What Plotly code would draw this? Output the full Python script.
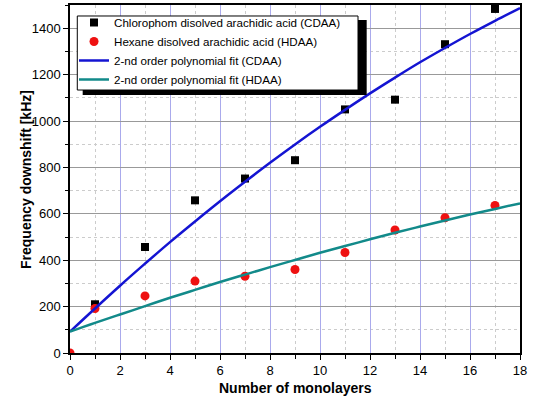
import plotly.graph_objects as go

# Measured data
x_pts = [1, 3, 5, 7, 9, 11, 13, 15, 17]
cdaa = [210, 457, 658, 752, 831, 1050, 1092, 1331, 1483]
x_h = [0, 1, 3, 5, 7, 9, 11, 13, 15, 17]
hdaa = [0, 192, 246, 310, 331, 360, 433, 530, 583, 636]

# Fit curves at integer x
x_fit = list(range(0, 19))
fit_cdaa = [92, 192, 290, 385, 478, 567, 654, 738, 820, 899, 975, 1048, 1119,
            1187, 1253, 1315, 1375, 1432, 1487]
fit_hdaa = [92, 130, 166, 202, 238, 272, 306, 338, 370, 401, 432, 461, 490,
            518, 545, 571, 597, 621, 645]

x_title = "Number of monolayers"
y_title = "Frequency downshift [kHz]"

FONT = "Liberation Sans, Arial, sans-serif"

fig = go.Figure()
fig.add_trace(go.Scatter(x=x_pts, y=cdaa, mode="markers",
                         name="Chlorophom disolved arachidic acid (CDAA)",
                         marker=dict(symbol="square", size=8, color="black")))
fig.add_trace(go.Scatter(x=x_h, y=hdaa, mode="markers",
                         name="Hexane disolved arachidic acid (HDAA)",
                         marker=dict(symbol="circle", size=9, color="#ee1111")))
fig.add_trace(go.Scatter(x=x_fit, y=fit_cdaa, mode="lines", line_shape="spline",
                         name="2-nd order polynomial fit (CDAA)",
                         line=dict(color="#1414d2", width=2.5)))
fig.add_trace(go.Scatter(x=x_fit, y=fit_hdaa, mode="lines", line_shape="spline",
                         name="2-nd order polynomial fit (HDAA)",
                         line=dict(color="#128a8a", width=2.5)))

axis_common = dict(showline=True, linecolor="black", linewidth=1.5, mirror=True,
                   ticks="outside", ticklen=5, tickcolor="black", tickwidth=1,
                   tickfont=dict(family=FONT, size=13, color="black"),
                   zeroline=False, automargin=False)

fig.update_xaxes(range=[0, 18], dtick=2, tick0=0,
                 gridcolor="#aaaaec", gridwidth=1,
                 minor=dict(dtick=1, showgrid=True, gridcolor="#cccccc", griddash="dot",
                            ticks="outside", ticklen=4, tickcolor="black"),
                 **axis_common)
fig.update_yaxes(range=[0, 1500], dtick=200, tick0=0,
                 gridcolor="#999999", gridwidth=1,
                 minor=dict(dtick=100, showgrid=True, gridcolor="#cccccc", griddash="dot",
                            ticks="outside", ticklen=3, tickcolor="black"),
                 **axis_common)

fig.add_annotation(text="<b>" + x_title + "</b>", xref="paper", yref="paper",
                   x=0.5, y=-0.1006, xanchor="center", yanchor="middle",
                   showarrow=False, font=dict(family=FONT, size=14, color="black"))
fig.add_annotation(text="<b>" + y_title + "</b>", xref="paper", yref="paper",
                   x=-0.0978, y=0.5, xanchor="center", yanchor="middle", textangle=-90,
                   showarrow=False, font=dict(family=FONT, size=14, color="black"))

# legend box with drop shadow
fig.add_shape(type="rect", xref="paper", yref="paper", layer="above",
              x0=0.0282, x1=0.6593, y0=0.7414, y1=0.9569,
              fillcolor="black", line=dict(width=0))
fig.add_shape(type="rect", xref="paper", yref="paper", layer="above",
              x0=0.0162, x1=0.64, y0=0.7557, y1=0.9684,
              fillcolor="white", line=dict(color="black", width=1))

fig.update_layout(
    width=550, height=397,
    margin=dict(l=70, r=30, t=5, b=44),
    plot_bgcolor="white", paper_bgcolor="white",
    showlegend=True,
    legend=dict(x=0.0089, y=0.9914, xanchor="left", yanchor="top",
                bgcolor="rgba(0,0,0,0)", borderwidth=0,
                font=dict(family=FONT, size=11.6, color="black"),
                tracegroupgap=0, itemwidth=30),
)
fig.write_html("out.html", config={"displayModeBar": False},
               post_script="document.body.style.margin='0';")
